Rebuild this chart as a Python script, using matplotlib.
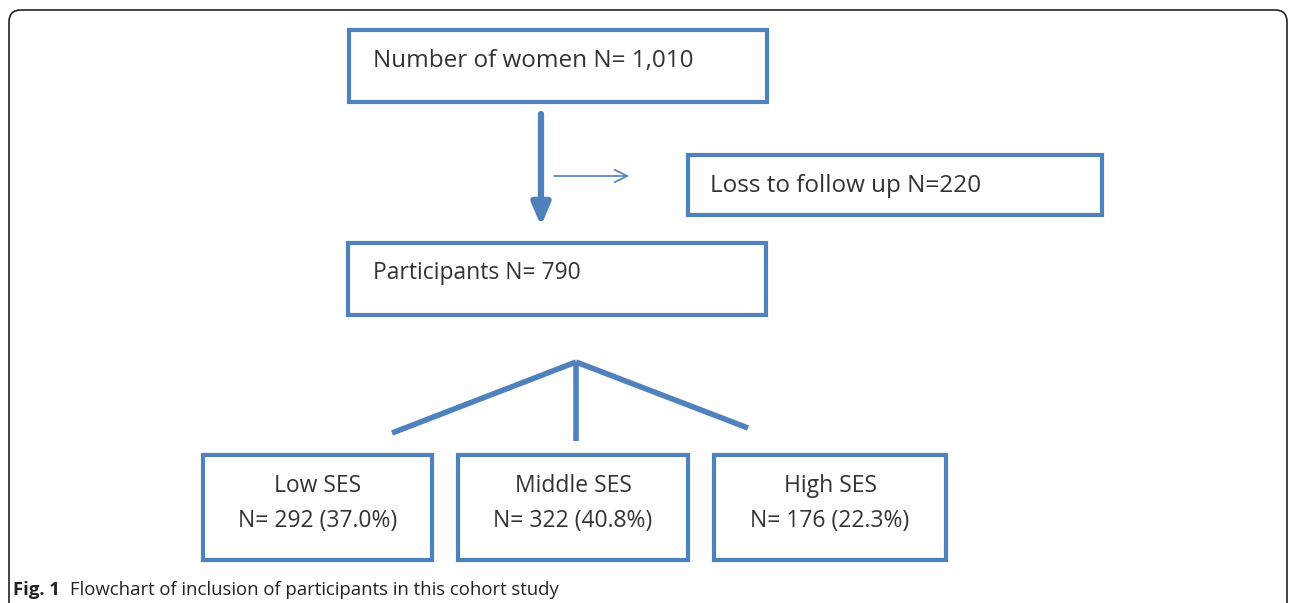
import matplotlib
matplotlib.use('Agg')
import matplotlib.pyplot as plt
from matplotlib.patches import Rectangle, FancyBboxPatch

# Flowchart content
total_women = "1,010"
lost_followup = 220
participants = 790
ses_groups = ["Low SES", "Middle SES", "High SES"]
ses_counts = [292, 322, 176]
ses_pct = [37.0, 40.8, 22.3]
caption_bold = "Fig. 1"
caption_text = "Flowchart of inclusion of participants in this cohort study"

blue = '#4f81bd'
txt = '#333333'
lw_box = 3.0

fig = plt.figure(figsize=(12.9, 6.03), dpi=100)
ax = fig.add_axes([0, 0, 1, 1])
ax.set_xlim(0, 1290)
ax.set_ylim(603, 0)
ax.axis('off')

# outer frame (rounded, running off the bottom/right)
ax.add_patch(FancyBboxPatch((9, 10), 1278, 620, boxstyle="round,pad=0,rounding_size=12",
                            fill=False, ec='#222222', lw=1.2))


def box(x0, y0, x1, y1):
    ax.add_patch(Rectangle((x0, y0), x1 - x0, y1 - y0, fill=False, ec=blue, lw=lw_box))


font = 'Open Sans'
fs = 16.5

# top box
box(349, 30, 767, 102)
ax.text(373, 61, f"Number of women N= {total_women}", fontsize=17.5, color=txt,
        family=font, va='center', ha='left')

# main arrow down
ax.annotate('', xy=(541, 226), xytext=(541, 114),
            arrowprops=dict(arrowstyle='-|>,head_length=1.3,head_width=0.55', color=blue, lw=4.5,
                            shrinkA=0, shrinkB=0))
# thin side arrow
ax.annotate('', xy=(629, 176), xytext=(554, 176),
            arrowprops=dict(arrowstyle='->,head_length=0.9,head_width=0.45', color=blue, lw=1.2,
                            shrinkA=0, shrinkB=0))

# loss box
box(688, 155, 1102, 215)
ax.text(710, 186, f"Loss to follow up N={lost_followup}", fontsize=17.5, color=txt,
        family=font, va='center', ha='left')

# participants box
box(348, 243, 766, 315)
ax.text(373, 273, f"Participants N= {participants}", fontsize=fs, color=txt,
        family=font, va='center', ha='left')

# branching lines
apex = (576, 362)
ends = [(392, 433), (576, 441), (748, 428)]
for ex, ey in ends:
    ax.plot([apex[0], ex], [apex[1], ey], color=blue, lw=4, solid_capstyle='butt')

# SES boxes
xs = [(203, 432), (458, 688), (714, 946)]
for (x0, x1), name, n, p in zip(xs, ses_groups, ses_counts, ses_pct):
    box(x0, 455, x1, 560)
    cx = (x0 + x1) / 2
    ax.text(cx, 486, name, fontsize=fs, color=txt, family=font, ha='center', va='center')
    ax.text(cx, 521, f"N= {n} ({p:.1f}%)", fontsize=fs, color=txt, family=font,
            ha='center', va='center')

# caption
ax.text(13, 590, caption_bold, fontsize=13.3, fontweight='bold', color='#222222',
        family=font, va='center', ha='left')
ax.text(70, 590, caption_text, fontsize=13.3, color='#222222', family=font,
        va='center', ha='left')

fig.savefig('out.png', dpi=100)
